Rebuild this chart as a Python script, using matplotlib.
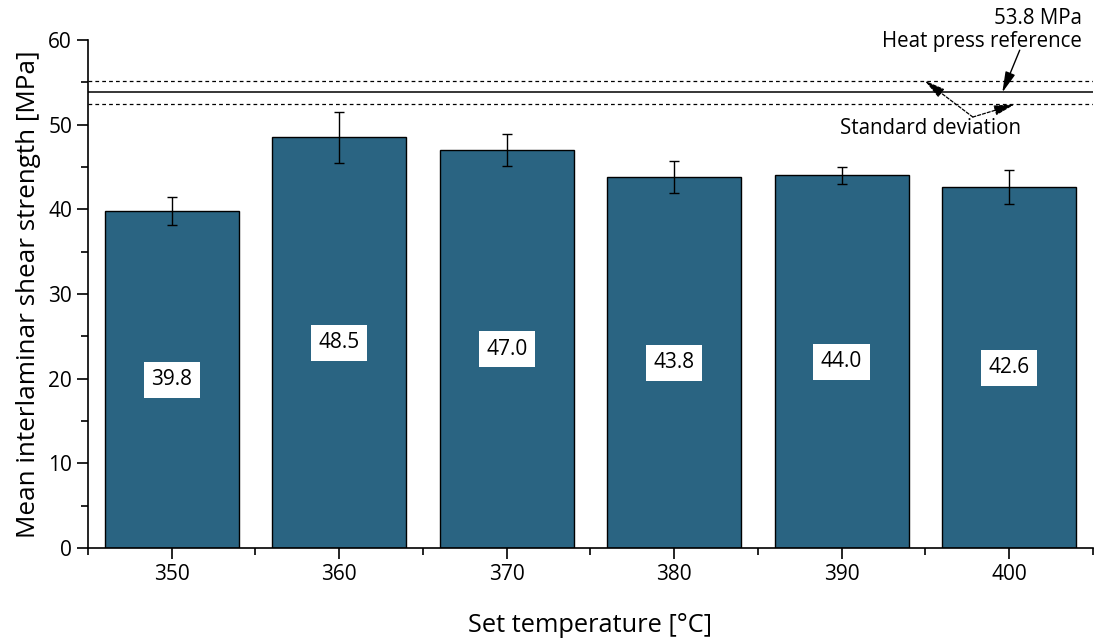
import numpy as np
import matplotlib.pyplot as plt
from matplotlib.ticker import MultipleLocator

plt.rcParams['font.family'] = ['Open Sans', 'DejaVu Sans']

# data
temps = [350, 360, 370, 380, 390, 400]
ilss = [39.8, 48.5, 47.0, 43.8, 44.0, 42.6]
ilss_sd = [1.6, 3.0, 1.9, 1.85, 1.05, 2.0]
ref_mean = 53.8
ref_sd = 1.4

bar_color = '#2a6482'

fig = plt.figure(figsize=(11.06, 6.42), dpi=100)
ax = fig.add_axes([0.0796, 0.1464, 0.9084, 0.7913])

ax.bar(temps, ilss, width=8, color=bar_color, edgecolor='black', linewidth=1.0, zorder=2)
ax.errorbar(temps, ilss, yerr=ilss_sd, fmt='none', ecolor='black', elinewidth=1.0,
            capsize=3.6, capthick=1.0, zorder=3)

for t, v in zip(temps, ilss):
    ax.text(t, v / 2, f'{v:.1f}', ha='center', va='center', fontsize=15, zorder=4,
            bbox=dict(boxstyle='square,pad=0.36', facecolor='white', edgecolor='none'))

# heat press reference
ax.axhline(ref_mean, color='black', linewidth=1.1, zorder=1)
ax.axhline(ref_mean + ref_sd, color='black', linewidth=0.9, linestyle=(0, (3, 2.5)), zorder=1)
ax.axhline(ref_mean - ref_sd, color='black', linewidth=0.9, linestyle=(0, (3, 2.5)), zorder=1)

head = '-|>,head_length=0.9,head_width=0.22'
ax.annotate('53.8 MPa\nHeat press reference', xy=(399.6, ref_mean), xytext=(404.35, 61.2),
            ha='right', va='center', multialignment='right', fontsize=14.8,
            linespacing=1.15, annotation_clip=False, textcoords='data')
ax.annotate('', xy=(399.6, ref_mean), xytext=(400.64, 58.8), annotation_clip=False,
            arrowprops=dict(arrowstyle=head, color='black', lw=1.0, mutation_scale=14,
                            shrinkA=0, shrinkB=0))
ax.annotate('', xy=(394.97, ref_mean + ref_sd), xytext=(397.84, 50.9), annotation_clip=False,
            arrowprops=dict(arrowstyle=head, color='black', lw=0.9, linestyle=(0, (2.5, 1.5)),
                            mutation_scale=14, shrinkA=0, shrinkB=0))
ax.annotate('', xy=(400.34, ref_mean - ref_sd), xytext=(397.84, 50.9), annotation_clip=False,
            arrowprops=dict(arrowstyle=head, color='black', lw=0.9, linestyle=(0, (2.5, 1.5)),
                            mutation_scale=14, shrinkA=0, shrinkB=0))
ax.text(395.3, 49.6, 'Standard deviation', ha='center', va='center', fontsize=14.8)

ax.set_xlim(345, 405)
ax.set_ylim(0, 60)
ax.set_xticks(temps)
ax.xaxis.set_minor_locator(plt.FixedLocator([345 + 10 * i for i in range(7)]))
ax.yaxis.set_major_locator(MultipleLocator(10))
ax.yaxis.set_minor_locator(MultipleLocator(5))

for side in ['top', 'right']:
    ax.spines[side].set_visible(False)
for side in ['left', 'bottom']:
    ax.spines[side].set_linewidth(1.2)

ax.tick_params(which='major', direction='out', length=8, width=1.2, labelsize=15)
ax.tick_params(which='minor', direction='out', length=5, width=1.2)

ax.set_xlabel('Set temperature [°C]', fontsize=18.3, labelpad=20)
ax.set_ylabel('Mean interlaminar shear strength [MPa]', fontsize=18.8, labelpad=5)

fig.savefig('out.png', dpi=100)
